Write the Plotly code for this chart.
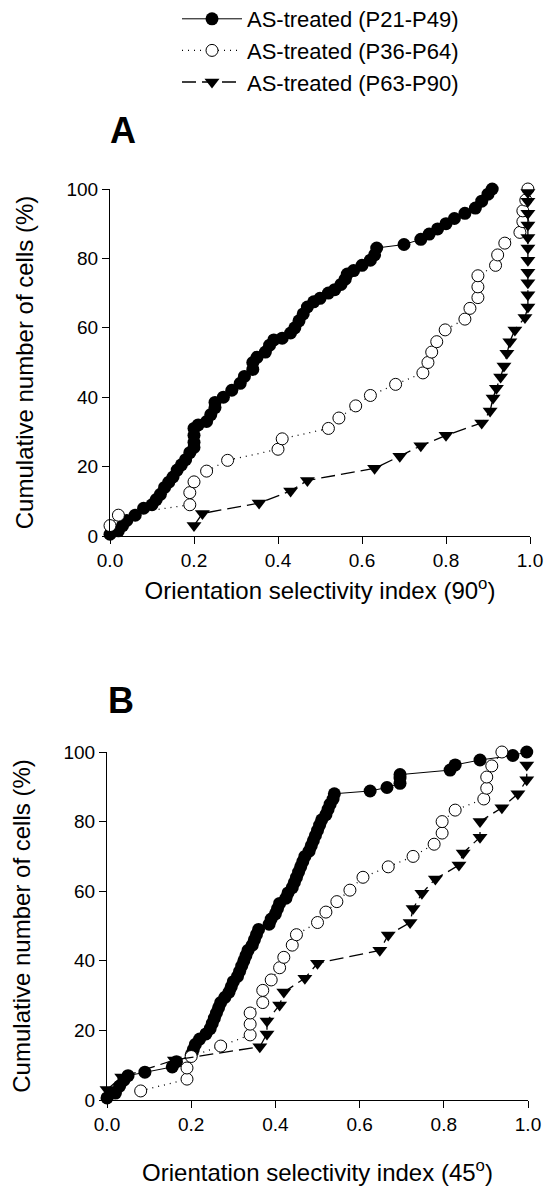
import plotly.graph_objects as go

# ---------------- data ----------------
series_names = ["AS-treated (P21-P49)", "AS-treated (P36-P64)", "AS-treated (P63-P90)"]

# Panel A (90 deg)
a1_x = [0.00, 0.02, 0.03, 0.04, 0.06, 0.08, 0.10, 0.11, 0.12, 0.13, 0.14, 0.15, 0.16, 0.17, 0.18, 0.19,
        0.20, 0.20, 0.20, 0.20, 0.21, 0.23, 0.24, 0.25, 0.25, 0.27, 0.29, 0.31, 0.32, 0.34, 0.34, 0.35,
        0.37, 0.38, 0.39, 0.41, 0.43, 0.44, 0.45, 0.46, 0.47, 0.485, 0.50, 0.52, 0.535, 0.55, 0.56, 0.565,
        0.58, 0.60, 0.62, 0.63, 0.635, 0.70, 0.74, 0.76, 0.78, 0.80, 0.82, 0.845, 0.87, 0.885, 0.90, 0.91]
a1_y = [0.5, 1.5, 3, 4.5, 6, 8, 9, 10.5, 12, 14, 15.5, 17, 19, 20.5, 22, 24,
        25.5, 27, 29, 31, 32, 33, 35, 37, 38.5, 40, 42, 44, 46, 48, 50, 51.5,
        53, 55, 56.5, 57, 58.5, 60, 62, 64, 66, 67.5, 68.5, 70, 71, 72.5, 74, 75.5,
        76.5, 78, 79.5, 81, 83, 84, 85.5, 87, 88.5, 90, 91.5, 93, 94.5, 96.5, 98.5, 100]

a2_x = [0.00, 0.02, 0.19, 0.19, 0.20, 0.23, 0.28, 0.40, 0.41, 0.52, 0.545, 0.585, 0.62, 0.68, 0.745, 0.757,
        0.766, 0.778, 0.798, 0.845, 0.857, 0.876, 0.876, 0.876, 0.918, 0.923, 0.94, 0.976, 0.983, 0.983, 0.99, 0.995]
a2_y = [3, 6, 9, 12.5, 15.6, 18.7, 21.8, 25, 28, 31, 34, 37.5, 40.5, 43.7, 47, 50,
        53, 56, 59.4, 62.5, 65.6, 68.7, 71.8, 75, 78, 81, 84.4, 87.5, 90.6, 93.7, 96.8, 100]

a3_x = [0.20, 0.22, 0.355, 0.43, 0.47, 0.63, 0.69, 0.74, 0.80, 0.885, 0.905, 0.912, 0.92, 0.93, 0.938,
        0.945, 0.952, 0.964, 0.988, 0.995, 0.995, 0.995, 0.995, 0.995, 0.995, 0.995, 0.995, 0.995, 0.995, 0.995]
a3_y = [3, 6.5, 9.5, 13, 16, 19.5, 23, 26, 29, 32.6, 36, 39.8, 42.6, 45.8, 49,
        52.7, 56, 59.4, 63, 66, 69.5, 73, 76, 79.5, 83, 86, 89.6, 93, 96.5, 99]

# Panel B (45 deg)
b1_x = [0.00, 0.02, 0.03, 0.04, 0.05, 0.09, 0.155, 0.165, 0.20, 0.205, 0.21, 0.22, 0.235, 0.245, 0.25, 0.255,
        0.26, 0.265, 0.27, 0.28, 0.29, 0.295, 0.30, 0.31, 0.315, 0.32, 0.325, 0.33, 0.335, 0.345, 0.35, 0.355,
        0.36, 0.385, 0.39, 0.40, 0.405, 0.41, 0.425, 0.43, 0.44, 0.445, 0.45, 0.455, 0.46, 0.465, 0.47, 0.48,
        0.485, 0.49, 0.495, 0.50, 0.505, 0.51, 0.52, 0.525, 0.53, 0.537, 0.54, 0.625, 0.665, 0.696, 0.696, 0.696,
        0.815, 0.827, 0.886, 0.964, 0.997]
b1_y = [0.6, 2, 4, 5.7, 7, 8, 9.5, 11, 13, 14.5, 16, 17.5, 19, 20.5, 22, 23.5,
        25, 26.5, 28, 29.5, 31, 32.5, 34, 35.5, 37, 38.5, 40, 41.5, 43, 44.5, 46, 47.5,
        49, 50.5, 52, 53.5, 55, 56.5, 58, 59.5, 61, 62.5, 64, 65.5, 67, 68.5, 70, 71.5,
        73, 74.5, 76, 77.5, 79, 80.5, 82, 83.5, 85, 86.5, 88, 88.8, 89.8, 91, 92.5, 93.5,
        94.8, 96.3, 97.7, 99, 100]

b2_x = [0.08, 0.19, 0.19, 0.20, 0.27, 0.34, 0.34, 0.34, 0.37, 0.37, 0.39, 0.41, 0.42, 0.44, 0.45, 0.50,
        0.52, 0.546, 0.577, 0.608, 0.668, 0.727, 0.777, 0.796, 0.796, 0.827, 0.895, 0.902, 0.902, 0.914, 0.938]
b2_y = [2.6, 6, 9.2, 12.5, 15.5, 18.7, 21.8, 25, 28, 31.5, 34.5, 38, 41, 44.5, 47.5, 51,
        54, 57, 60.3, 64, 67, 70, 73.5, 76.7, 80, 83.3, 86.5, 89.6, 92.8, 96, 100]

b3_x = [0.00, 0.035, 0.16, 0.363, 0.38, 0.38, 0.41, 0.42, 0.47, 0.50, 0.648, 0.668, 0.72, 0.727, 0.748,
        0.78, 0.836, 0.846, 0.886, 0.886, 0.938, 0.976, 0.997, 0.997]
b3_y = [3, 6.6, 11.5, 15.3, 19, 22.7, 27.3, 31, 35, 39.3, 43, 47.4, 51, 55, 59.4,
        63.5, 67.5, 71, 75.5, 80, 84, 88, 92, 96.3]

x_ticks = [0.0, 0.2, 0.4, 0.6, 0.8, 1.0]
y_ticks = [0, 20, 40, 60, 80, 100]

# ---------------- styles ----------------
FONT = "Liberation Sans, Arial, sans-serif"
styles = [
    dict(line=dict(color="black", width=1, dash="solid"),
         marker=dict(symbol="circle", size=13, color="black", line=dict(color="black", width=0))),
    dict(line=dict(color="black", width=1.3, dash="1px,5px"),
         marker=dict(symbol="circle", size=12, color="white", line=dict(color="black", width=1))),
    dict(line=dict(color="black", width=1.3, dash="14px,6px"),
         marker=dict(symbol="triangle-down", size=13, color="black", line=dict(color="black", width=0))),
]

fig = go.Figure()
panels = [
    ("x", "y", [(a1_x, a1_y), (a2_x, a2_y), (a3_x, a3_y)], True),
    ("x2", "y2", [(b1_x, b1_y), (b2_x, b2_y), (b3_x, b3_y)], False),
]
for xa, ya, data, show in panels:
    for i, (xs, ys) in enumerate(data):
        fig.add_trace(go.Scatter(
            x=xs, y=ys, mode="lines+markers", name=series_names[i],
            xaxis=xa, yaxis=ya, legendgroup=series_names[i], showlegend=show,
            cliponaxis=False, **styles[i]))

W, H = 551, 1199
def px_x(p):
    return p / W
def px_y(p):
    return 1 - p / H

axis_common = dict(
    showgrid=False, zeroline=False, showline=True, linecolor="black", linewidth=1,
    ticks="outside", ticklen=7, tickwidth=1, tickcolor="black", automargin=False,
    tickfont=dict(family=FONT, size=19, color="black"),
)

tf = dict(family=FONT, size=24, color="black")
fig.update_layout(
    width=W, height=H,
    margin=dict(l=0, r=0, t=0, b=0, autoexpand=False),
    paper_bgcolor="white", plot_bgcolor="white",
    font=dict(family=FONT, color="black"),
    xaxis=dict(domain=[px_x(110), px_x(530)], range=[0, 1], tickvals=x_ticks, tickformat=".1f",
               anchor="y", title=dict(text="Orientation selectivity index (90<sup>o</sup>)", font=tf, standoff=12),
               **axis_common),
    yaxis=dict(domain=[px_y(536), px_y(189)], range=[0, 100], tickvals=y_ticks,
               anchor="x", title=dict(text="Cumulative number of cells (%)", font=tf, standoff=26),
               **axis_common),
    xaxis2=dict(domain=[px_x(107), px_x(528)], range=[0, 1], tickvals=x_ticks, tickformat=".1f",
                anchor="y2", title=dict(text="Orientation selectivity index (45<sup>o</sup>)", font=tf, standoff=30),
                **axis_common),
    yaxis2=dict(domain=[px_y(1100), px_y(752)], range=[0, 100], tickvals=y_ticks,
                anchor="x2", title=dict(text="Cumulative number of cells (%)", font=tf, standoff=26),
                **axis_common),
    legend=dict(x=px_x(177), y=px_y(-2), xanchor="left", yanchor="top",
                font=dict(family=FONT, size=22, color="black"),
                itemwidth=60, bgcolor="rgba(0,0,0,0)", borderwidth=0, tracegroupgap=0),
    showlegend=True,
    annotations=[
        dict(text="<b>A</b>", x=px_x(108), y=px_y(130), xref="paper", yref="paper",
             xanchor="left", yanchor="middle", showarrow=False,
             font=dict(family=FONT, size=36, color="black")),
        dict(text="<b>B</b>", x=px_x(106), y=px_y(700), xref="paper", yref="paper",
             xanchor="left", yanchor="middle", showarrow=False,
             font=dict(family=FONT, size=36, color="black")),
    ],
)

fig.write_html("out.html", config={"displayModeBar": False},
               post_script="document.body.style.margin='0';document.body.style.padding='0';")
